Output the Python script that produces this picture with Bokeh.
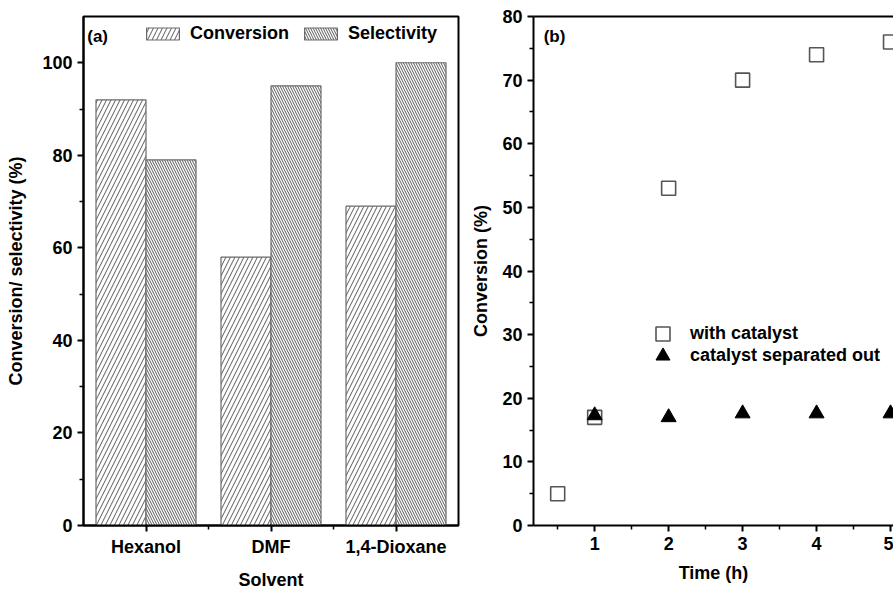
import numpy as np
from bokeh.plotting import figure
from bokeh.models import (Range1d, FixedTicker, Legend, LegendItem, Label,
                          LinearAxis, ColumnDataSource)
from bokeh.transform import dodge
from bokeh.layouts import row
from bokeh.embed import file_html
from bokeh.resources import INLINE

# ---------------- data ----------------
solvents = ["Hexanol", "DMF", "1,4-Dioxane"]
conversion = [92, 58, 69]
selectivity = [79, 95, 100]

time_with = [0.5, 1, 2, 3, 4, 5]
conv_with = [5, 17, 53, 70, 74, 76]
time_sep = [1, 2, 3, 4, 5]
conv_sep = [17.3, 17.0, 17.6, 17.6, 17.6]

a_yticks = [0, 20, 40, 60, 80, 100]
a_yminor = [10, 30, 50, 70, 90]
b_xticks = [1, 2, 3, 4, 5]
b_xminor = [0.5, 1.5, 2.5, 3.5, 4.5]
b_yticks = [0, 10, 20, 30, 40, 50, 60, 70, 80]
b_yminor = [5, 15, 25, 35, 45, 55, 65, 75]

FONT = "Liberation Sans"
TICK_FS = "18px"
LABEL_FS = "18px"


def style_axis(ax):
    ax.axis_line_width = 2
    ax.axis_line_color = "black"
    ax.major_tick_line_width = 2
    ax.minor_tick_line_width = 1.5
    ax.major_tick_in = 0
    ax.major_tick_out = 6
    ax.minor_tick_in = 0
    ax.minor_tick_out = 4
    ax.major_label_text_font = FONT
    ax.major_label_text_font_style = "bold"
    ax.major_label_text_font_size = TICK_FS
    ax.major_label_text_color = "black"
    ax.axis_label_text_font = FONT
    ax.axis_label_text_font_style = "bold"
    ax.axis_label_text_font_size = LABEL_FS
    ax.axis_label_text_color = "black"
    ax.major_label_standoff = 5


# ---------------- panel (a) ----------------
pa = figure(width=468, height=592, x_range=Range1d(0, 3), y_range=Range1d(0, 110),
            output_backend="svg", toolbar_location=None,
            min_border_left=83, min_border_right=10, min_border_top=16,
            min_border_bottom=64)
pa.grid.visible = False
pa.outline_line_color = "black"
pa.outline_line_width = 2
pa.background_fill_color = "white"
pa.border_fill_color = "white"

centers = np.arange(len(solvents)) + 0.5
src_a = ColumnDataSource(dict(x=centers, conv=conversion, sel=selectivity))
r_conv = pa.vbar(x=dodge("x", -0.2), top="conv", bottom=0, width=0.4, source=src_a,
                 fill_color="white", line_color="#6a6a6a", line_width=1.2,
                 hatch_pattern="/", hatch_color="#5a5a5a", hatch_scale=9,
                 hatch_weight=1)
r_sel = pa.vbar(x=dodge("x", 0.2), top="sel", bottom=0, width=0.4, source=src_a,
                fill_color="white", line_color="#6a6a6a", line_width=1.2,
                hatch_pattern="\\", hatch_color="#5a5a5a", hatch_scale=5,
                hatch_weight=1)

for ax in pa.axis:
    style_axis(ax)
pa.xaxis.ticker = FixedTicker(ticks=list(centers), minor_ticks=[1, 2])
pa.xaxis.major_label_overrides = {float(c): s for c, s in zip(centers, solvents)}
pa.xaxis.axis_label = "Solvent"
pa.xaxis.axis_label_standoff = 10
pa.yaxis.ticker = FixedTicker(ticks=a_yticks, minor_ticks=a_yminor)
pa.yaxis.axis_label = "Conversion/ selectivity (%)"
pa.yaxis.axis_label_standoff = 13

leg_a = Legend(items=[LegendItem(label="Conversion", renderers=[r_conv]),
                      LegendItem(label="Selectivity", renderers=[r_sel])],
               orientation="horizontal", location=(59, 481),
               glyph_width=41, glyph_height=15, label_standoff=7, spacing=11,
               padding=0, margin=0, border_line_color=None,
               background_fill_alpha=0, label_text_color="black",
               label_text_font=FONT, label_text_font_style="bold",
               label_text_font_size=TICK_FS)
pa.add_layout(leg_a)
pa.add_layout(Label(x=0.03, y=107.8, text="(a)", text_baseline="top",
                    text_font=FONT, text_font_style="bold", text_font_size="17px",
                    text_color="black"))

# ---------------- panel (b) ----------------
pb = figure(width=425, height=592, x_range=Range1d(0.173, 5.04), y_range=Range1d(0, 80),
            output_backend="svg", toolbar_location=None,
            min_border_left=60, min_border_right=0, min_border_top=16,
            min_border_bottom=64)
pb.grid.visible = False
pb.outline_line_color = None
pb.background_fill_color = "white"
pb.border_fill_color = "white"

r_with = pb.scatter(time_with, conv_with, marker="square", size=14,
                    fill_color="white", line_color="#555555", line_width=1.6)
r_sep = pb.scatter(time_sep, conv_sep, marker="triangle", size=15,
                   fill_color="black", line_color="black")

for ax in pb.axis:
    style_axis(ax)
pb.xaxis.ticker = FixedTicker(ticks=b_xticks, minor_ticks=b_xminor)
pb.xaxis.axis_label = "Time (h)"
pb.xaxis.axis_label_standoff = 10
pb.yaxis.ticker = FixedTicker(ticks=b_yticks, minor_ticks=b_yminor)
pb.yaxis.axis_label = "Conversion (%)"
pb.yaxis.axis_label_standoff = 8

top_ax = LinearAxis(ticker=FixedTicker(ticks=[]), axis_line_width=2,
                    axis_line_color="black", major_tick_line_color=None,
                    minor_tick_line_color=None, major_label_text_font_size="0px")
pb.add_layout(top_ax, "above")

legend_common = dict(orientation="vertical", glyph_width=35, glyph_height=35,
                     label_standoff=10, padding=0, margin=0,
                     border_line_color=None, background_fill_alpha=0,
                     label_text_color="black",
                     label_text_font=FONT, label_text_font_style="bold",
                     label_text_font_size=TICK_FS)
leg_b1 = Legend(items=[LegendItem(label="with catalyst", renderers=[r_with])],
                location=(112, 174), **legend_common)
leg_b2 = Legend(items=[LegendItem(label="catalyst separated out", renderers=[r_sep])],
                location=(112, 152), **legend_common)
pb.add_layout(leg_b1)
pb.add_layout(leg_b2)
pb.add_layout(Label(x=0.31, y=78.4, text="(b)", text_baseline="top",
                    text_font=FONT, text_font_style="bold", text_font_size="17px",
                    text_color="black"))

layout = row(pa, pb)
open("out.html", "w").write(file_html(layout, INLINE))
